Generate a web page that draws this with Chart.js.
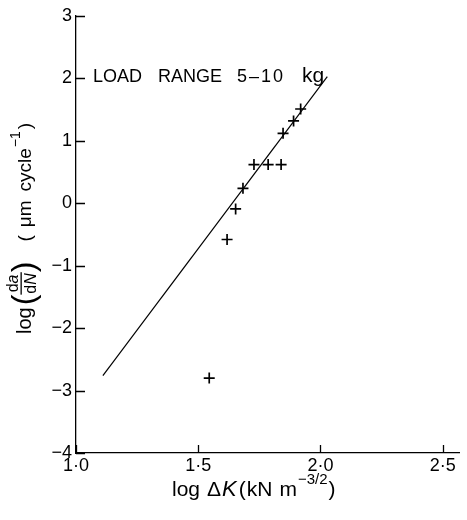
<!DOCTYPE html>
<html>
<head>
<meta charset="utf-8">
<script src="https://cdn.jsdelivr.net/npm/chart.js@4.4.1/dist/chart.umd.min.js"></script>
<style>
  html, body { margin: 0; padding: 0; background: #fff; }
  #wrap { width: 467px; height: 520px; }
</style>
</head>
<body>
<div id="wrap"><canvas id="c" width="467" height="520"></canvas></div>
<script>
// ---- data ----
const logDeltaK = [1.545, 1.618, 1.653, 1.683, 1.728, 1.786, 1.839, 1.847, 1.890, 1.919];
const logDaDN   = [-2.80, -0.58, -0.09, 0.24, 0.62, 0.62, 0.62, 1.12, 1.32, 1.51];
const fitX = [1.110, 2.028];
const fitY = [-2.76, 2.03];
const xTickValues = [1.0, 1.5, 2.0, 2.5];
const xTickLabels = ['1·0', '1·5', '2·0', '2·5'];
const yTickValues = [-4, -3, -2, -1, 0, 1, 2, 3];
const yTickLabels = ['\u22124', '\u22123', '\u22122', '\u22121', '0', '1', '2', '3'];
const annotationText = ['LOAD', 'RANGE', '5\u201310', 'kg'];

const FONT = "'Liberation Sans', Arial, sans-serif";

const pts = logDeltaK.map((x, i) => ({ x: x, y: logDaDN[i] }));
const line = fitX.map((x, i) => ({ x: x, y: fitY[i] }));

const inwardTicks = {
  id: 'inwardTicks',
  afterDraw(chart) {
    const ctx = chart.ctx;
    const xs = chart.scales.x, ys = chart.scales.y;
    const a = chart.chartArea;
    ctx.save();
    ctx.strokeStyle = '#000';
    ctx.lineWidth = 1.3;
    ctx.beginPath();
    xTickValues.forEach(v => {
      const px = Math.round(xs.getPixelForValue(v)) + 0.5;
      ctx.moveTo(px, a.bottom);
      ctx.lineTo(px, a.bottom - 8);
    });
    yTickValues.forEach(v => {
      const py = Math.round(ys.getPixelForValue(v)) + 0.5;
      ctx.moveTo(a.left, py);
      ctx.lineTo(a.left + 9, py);
    });
    ctx.stroke();
    ctx.restore();
  }
};

function seq(ctx, parts, x, y) {
  // parts: [text, font, dx(before), dy]
  let cx = x;
  parts.forEach(p => {
    ctx.font = p[1];
    cx += (p[2] || 0);
    ctx.fillText(p[0], cx, y + (p[3] || 0));
    cx += ctx.measureText(p[0]).width;
  });
  return cx;
}

const titles = {
  id: 'titles',
  afterDraw(chart) {
    const ctx = chart.ctx;
    const a = chart.chartArea;
    ctx.save();
    ctx.fillStyle = '#000';
    ctx.textBaseline = 'alphabetic';
    ctx.textAlign = 'left';

    // annotation
    ctx.font = '18px ' + FONT;
    const ay = 82;
    ctx.fillText(annotationText[0], a.left + 17, ay);
    ctx.fillText(annotationText[1], a.left + 82, ay);
    ctx.letterSpacing = '2px';
    ctx.fillText(annotationText[2], a.left + 161, ay);
    ctx.letterSpacing = '0px';
    ctx.font = '21px ' + FONT;
    ctx.fillText(annotationText[3], a.left + 226, ay);

    // x axis title
    const xr = '21px ' + FONT;
    const xit = 'italic 22px ' + FONT;
    const xsup = '15px ' + FONT;
    seq(ctx, [
      ['log', xr, 0],
      ['\u0394', xr, 7],
      ['K', xit, 1],
      ['(', xr, 2],
      ['kN', xr, 1],
      ['m', xr, 7],
      ['\u22123/2', xsup, 1, -12],
      [')', xr, 1]
    ], 172, 496);

    // y axis title (rotated)
    const r = '19px ' + FONT;
    const sup = '14px ' + FONT;
    ctx.translate(31, 334);
    ctx.rotate(-Math.PI / 2);
    ctx.font = '20px ' + FONT;
    ctx.fillText('log', 0, 0);
    let u = ctx.measureText('log').width + 2;
    ctx.font = '32px ' + FONT;
    ctx.fillText('(', u, 3);
    u += ctx.measureText('(').width;
    // fraction
    const fr = '16px ' + FONT;
    const fri = 'italic 16px ' + FONT;
    ctx.font = fr; const wd = ctx.measureText('d').width;
    ctx.font = fri; const wa = ctx.measureText('a').width; const wN = ctx.measureText('N').width;
    const fw = Math.max(wd + wa, wd + wN) + 2;
    seq(ctx, [['d', fr, 0], ['a', fri, 0]], u + (fw - wd - wa) / 2, -13);
    seq(ctx, [['d', fr, 0], ['N', fri, 0]], u + (fw - wd - wN) / 2, 5);
    ctx.fillRect(u, -10.5, fw, 1.3);
    u += fw;
    ctx.font = '32px ' + FONT;
    ctx.fillText(')', u, 3);
    u += ctx.measureText(')').width + 20;
    seq(ctx, [
      ['(', r, 0],
      ['\u03bcm', r, 8],
      ['cycle', r, 9],
      ['\u22121', sup, 1, -11],
      [')', r, 2]
    ], u, 0);
    ctx.restore();
  }
};

new Chart(document.getElementById('c'), {
  type: 'scatter',
  data: {
    datasets: [
      {
        data: pts,
        pointStyle: 'cross',
        pointRadius: 5.5,
        pointBorderWidth: 1.7,
        pointBorderColor: '#000',
        pointBackgroundColor: '#000',
        showLine: false
      },
      {
        data: line,
        showLine: true,
        borderColor: '#000',
        borderWidth: 1.2,
        pointRadius: 0,
        fill: false
      }
    ]
  },
  options: {
    responsive: false,
    animation: false,
    devicePixelRatio: 1,
    layout: { padding: { left: 0, right: 4, top: 16, bottom: 0 } },
    plugins: { legend: { display: false }, tooltip: { enabled: false } },
    scales: {
      x: {
        type: 'linear', min: 1.0, max: 2.57,
        afterFit(s) { s.height = 67; },
        afterBuildTicks(s) { s.ticks = xTickValues.map(v => ({ value: v })); },
        ticks: {
          callback: (v, i) => xTickLabels[i],
          font: { family: FONT, size: 18 }, color: '#000', padding: 2,
          maxRotation: 0, autoSkip: false
        },
        grid: { display: false, drawTicks: false },
        border: { display: true, color: '#000', width: 1.3 }
      },
      y: {
        type: 'linear', min: -4, max: 3,
        afterFit(s) { s.width = 76; },
        afterBuildTicks(s) { s.ticks = yTickValues.map(v => ({ value: v })); },
        ticks: {
          callback: (v, i) => yTickLabels[i],
          font: { family: FONT, size: 18 }, color: '#000', padding: 4,
          autoSkip: false
        },
        grid: { display: false, drawTicks: false },
        border: { display: true, color: '#000', width: 1.3 }
      }
    }
  },
  plugins: [inwardTicks, titles]
});
</script>
</body>
</html>
